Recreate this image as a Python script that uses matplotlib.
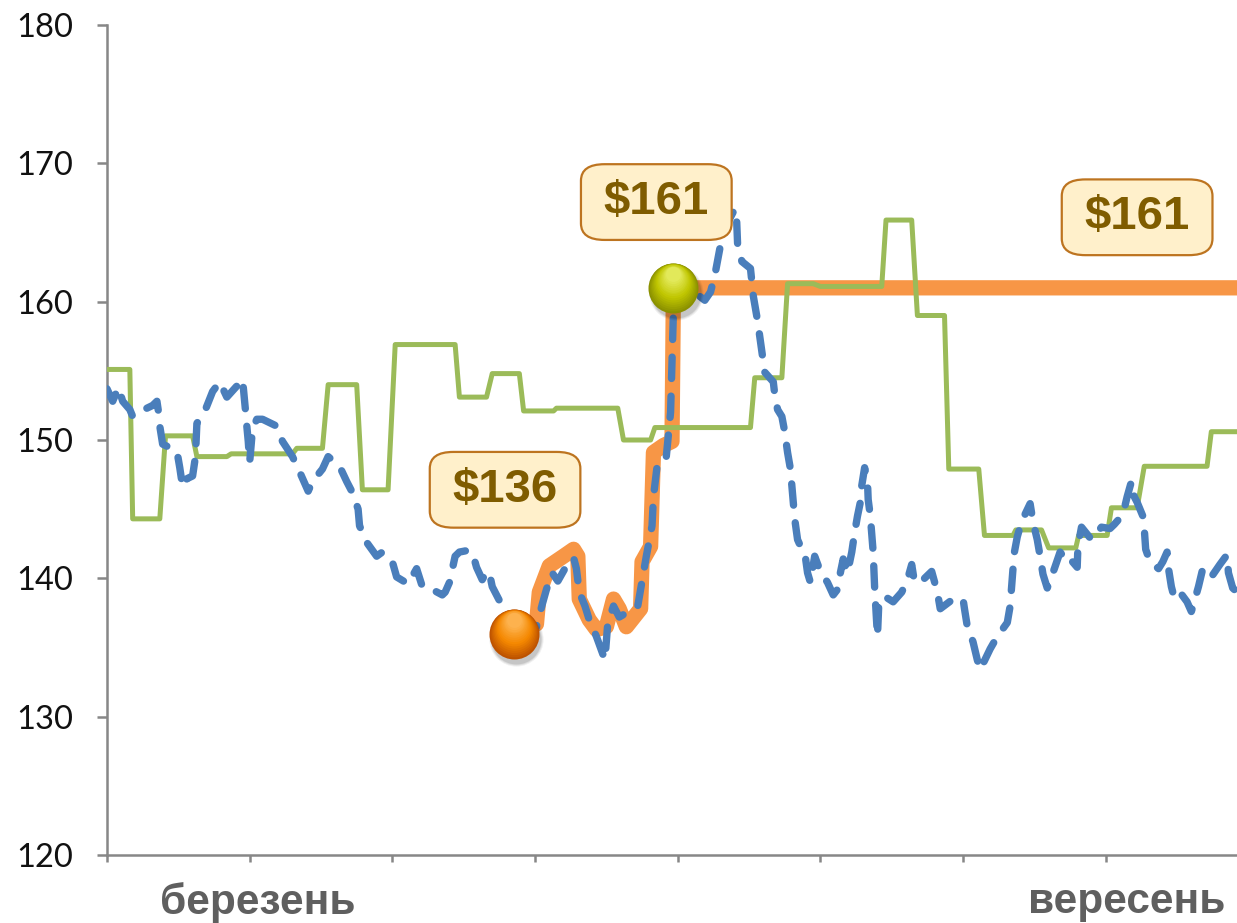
import matplotlib
matplotlib.use("Agg")
import matplotlib.pyplot as plt
import matplotlib.transforms as mtransforms
import numpy as np

# ---- data (x in months from the start of February) ----
blue_x = [0.00, 0.04, 0.08, 0.11, 0.16, 0.18, 0.22, 0.32, 0.35, 0.36, 0.37, 0.39,
          0.49, 0.51, 0.53, 0.56, 0.60, 0.62, 0.63, 0.69, 0.74, 0.79, 0.84, 0.91,
          0.95, 0.97, 0.98, 0.99, 1.00, 1.02, 1.05, 1.09, 1.19, 1.23, 1.30, 1.35,
          1.41, 1.44, 1.51, 1.55, 1.63, 1.68, 1.72, 1.76, 1.77, 1.82, 1.89, 1.93,
          2.00, 2.03, 2.11, 2.17, 2.21, 2.26, 2.35, 2.37, 2.40, 2.44, 2.47, 2.52,
          2.56, 2.59, 2.63, 2.66, 2.68, 2.70, 2.78, 2.86, 2.98, 3.01, 3.05, 3.08,
          3.12, 3.16, 3.22, 3.27, 3.29, 3.31, 3.35, 3.38, 3.43, 3.49, 3.51, 3.55,
          3.59, 3.64, 3.72, 3.74, 3.78, 3.82, 3.83, 3.86, 3.92, 3.95, 3.96, 3.97,
          3.98, 4.09, 4.19, 4.23, 4.26, 4.30, 4.33, 4.39, 4.41, 4.42, 4.45, 4.51,
          4.53, 4.56, 4.59, 4.61, 4.67, 4.68, 4.70, 4.73, 4.75, 4.77, 4.79, 4.80,
          4.81, 4.82, 4.84, 4.87, 4.89, 4.91, 4.93, 4.96, 5.00, 5.05, 5.09, 5.12,
          5.14, 5.16, 5.19, 5.22, 5.24, 5.26, 5.28, 5.29, 5.31, 5.33, 5.335, 5.35,
          5.37, 5.38, 5.40, 5.41, 5.45, 5.51, 5.57, 5.61, 5.64, 5.66, 5.72, 5.78,
          5.82, 5.84, 5.93, 6.00, 6.01, 6.03, 6.07, 6.10, 6.12, 6.19, 6.24, 6.31,
          6.33, 6.34, 6.35, 6.36, 6.38, 6.41, 6.47, 6.49, 6.52, 6.54, 6.56, 6.59,
          6.64, 6.68, 6.73, 6.75, 6.80, 6.805, 6.83, 6.90, 6.97, 7.03, 7.06, 7.12,
          7.15, 7.18, 7.20, 7.22, 7.26, 7.27, 7.28, 7.31, 7.37, 7.40, 7.43, 7.44,
          7.46, 7.48, 7.52, 7.57, 7.60, 7.62, 7.65, 7.68, 7.74, 7.80, 7.85, 7.86,
          7.89, 7.92]
blue_y = [153.7, 152.8, 153.8, 152.8, 152.2, 151.7, 152.0, 152.5, 152.8, 152.1, 151.0, 149.7,
          149.2, 148.0, 146.6, 147.2, 147.4, 148.8, 151.2, 152.2, 153.5, 154.2, 153.1, 153.9,
          154.4, 152.2, 151.0, 149.9, 148.4, 150.8, 151.5, 151.5, 151.0, 149.9, 148.8, 147.7,
          146.3, 147.0, 147.9, 148.8, 148.1, 147.0, 146.2, 145.0, 143.8, 142.6, 141.6, 141.9,
          141.2, 140.1, 139.6, 140.7, 139.4, 139.3, 138.8, 139.0, 139.7, 141.6, 141.9, 142.0,
          141.9, 140.8, 139.9, 140.5, 140.4, 139.4, 137.8, 135.2, 135.9, 136.5, 138.1, 139.2,
          140.4, 139.8, 140.9, 141.5, 140.7, 139.0, 138.0, 137.0, 135.8, 134.1, 136.8, 138.0,
          137.2, 137.5, 138.0, 139.2, 141.6, 143.8, 145.9, 148.5, 148.8, 152.0, 155.7, 159.3,
          160.9, 160.9, 160.1, 160.7, 161.9, 164.1, 165.3, 166.5, 166.7, 164.1, 162.9, 162.4,
          160.4, 158.6, 156.4, 154.9, 154.2, 153.3, 152.2, 151.7, 150.6, 149.1, 147.9, 146.7,
          145.5, 144.3, 142.8, 142.1, 141.9, 140.4, 139.7, 141.6, 140.5, 139.7, 138.8, 139.2,
          140.4, 141.4, 140.4, 141.9, 143.3, 144.5, 145.5, 146.7, 148.0, 147.0, 145.7, 144.5,
          141.9, 139.4, 135.8, 138.3, 138.7, 138.3, 139.0, 139.9, 141.0, 139.7, 139.9, 140.5,
          139.0, 137.8, 138.5, 138.5, 137.8, 136.5, 135.4, 134.1, 133.4, 134.9, 135.8, 136.8,
          138.0, 139.4, 140.7, 141.9, 143.0, 144.1, 145.4, 144.1, 142.8, 141.6, 140.3, 139.3,
          140.7, 141.9, 141.2, 141.4, 140.8, 142.3, 143.7, 142.8, 143.7, 143.6, 143.9, 144.6,
          145.9, 147.0, 145.9, 145.5, 144.5, 143.6, 142.1, 141.2, 140.7, 141.2, 141.9, 140.7,
          139.4, 138.6, 139.0, 138.3, 137.6, 138.3, 139.4, 140.7, 140.1, 141.0, 141.7, 140.4,
          139.3, 139.0]

green_x = [0.00, 0.16, 0.18, 0.37, 0.41, 0.60, 0.63, 0.84, 0.87, 1.30, 1.33, 1.51,
           1.55, 1.75, 1.79, 1.97, 2.02, 2.44, 2.47, 2.66, 2.70, 2.89, 2.92, 3.13,
           3.15, 3.58, 3.62, 3.81, 3.84, 4.51, 4.54, 4.73, 4.77, 4.95, 5.00, 5.43,
           5.46, 5.64, 5.68, 5.87, 5.90, 6.11, 6.15, 6.35, 6.37, 6.55, 6.60, 6.79,
           6.81, 7.01, 7.04, 7.22, 7.27, 7.71, 7.74, 7.92]
green_y = [155.1, 155.1, 144.3, 144.3, 150.3, 150.3, 148.8, 148.8, 149.0, 149.0, 149.4, 149.4,
           154.0, 154.0, 146.4, 146.4, 156.9, 156.9, 153.1, 153.1, 154.8, 154.8, 152.1, 152.1,
           152.3, 152.3, 150.0, 150.0, 150.9, 150.9, 154.5, 154.5, 161.3, 161.3, 161.1, 161.1,
           165.9, 165.9, 159.0, 159.0, 147.9, 147.9, 143.1, 143.1, 143.5, 143.5, 142.2, 142.2,
           143.1, 143.1, 145.1, 145.1, 148.1, 148.1, 150.6, 150.6]

# highlighted holding path: entry, climb, then a flat exit level
entry_x, entry_price = 2.85, 136
exit_x, exit_price = 3.97, 161
path_x = [2.85, 3.01, 3.03, 3.10, 3.20, 3.27, 3.30, 3.31, 3.38, 3.43, 3.50, 3.55,
          3.59, 3.64, 3.74, 3.75, 3.81, 3.83, 3.90, 3.96, 3.97, 7.92]
path_y = [136.0, 136.7, 139.0, 140.9, 141.6, 142.1, 141.6, 138.5, 137.0, 136.3, 136.5, 138.5,
          137.8, 136.5, 137.8, 141.2, 142.3, 149.1, 149.6, 149.9, 161.0, 161.0]

month_ticks = [0, 1, 2, 3, 4, 5, 6, 7]
month_labels = {1: "березень", 7: "вересень"}
y_ticks = [120, 130, 140, 150, 160, 170, 180]

# ---- figure ----
W, H = 1237, 923
fig = plt.figure(figsize=(W / 100, H / 100), dpi=100)
ax = fig.add_axes([107 / W, 1 - 855 / H, 1 - 107 / W, (855 - 25) / H])
ax.set_xlim(0, 7.92)
ax.set_ylim(120, 180)

ORANGE = "#F79646"
GREEN = "#9BBB59"
BLUE = "#4A7EBB"

ax.plot(path_x, path_y, color=ORANGE, lw=11, solid_joinstyle="round",
        solid_capstyle="butt", zorder=2)
ax.plot(green_x, green_y, color=GREEN, lw=3.6, solid_joinstyle="round", zorder=3)
ax.plot(blue_x, blue_y, color=BLUE, lw=5.3, dashes=(2.9, 2.4),
        dash_capstyle="round", dash_joinstyle="round", zorder=4)


def sphere(x, y, dark, mid, light, size=36):
    # soft drop shadow
    for k, a in ((3, 0.06), (1.5, 0.08), (0, 0.10)):
        sh = mtransforms.offset_copy(ax.transData, fig=fig, x=1.5, y=-3.5, units="points")
        ax.plot([x], [y], "o", ms=size + k, color="#000000", alpha=a, mec="none",
                transform=sh, zorder=5)
    # shaded body: stacked discs drifting up towards the highlight
    n = 16
    c_dark = np.array(matplotlib.colors.to_rgb(dark))
    c_mid = np.array(matplotlib.colors.to_rgb(mid))
    c_light = np.array(matplotlib.colors.to_rgb(light))
    for i in range(n):
        t = i / (n - 1)
        if t < 0.45:
            c = c_dark + (c_mid - c_dark) * (t / 0.45)
        else:
            c = c_mid + (c_light - c_mid) * ((t - 0.45) / 0.55)
        s = size * (1 - 0.7 * t)
        off = mtransforms.offset_copy(ax.transData, fig=fig, x=0,
                                      y=(size - s) * 0.40, units="points")
        ax.plot([x], [y], "o", ms=s, color=c, mec="none", transform=off, zorder=6)


sphere(entry_x, entry_price, "#BD5200", "#F58800", "#FDB24E")
sphere(exit_x, exit_price, "#8A9000", "#C0C600", "#E2E95A")

label_kw = dict(ha="center", va="center", fontsize=34, fontweight="bold",
                family="Liberation Sans", color="#7F5C00", zorder=8,
                bbox=dict(boxstyle="round,pad=0.48,rounding_size=0.5",
                          fc="#FFF0CB", ec="#BD7420", lw=1.6))
labels = [ax.text(2.79, 146.4, f"${entry_price}", **label_kw),
          ax.text(3.85, 167.2, f"${exit_price}", **label_kw),
          ax.text(7.22, 166.1, f"${path_y[-1]:.0f}", **label_kw)]
for t in labels:
    t.get_bbox_patch().set_mutation_aspect(0.7)

# ---- axes styling ----
for s in ("top", "right"):
    ax.spines[s].set_visible(False)
for s in ("left", "bottom"):
    ax.spines[s].set_color("#878787")
    ax.spines[s].set_linewidth(1.8)
    ax.spines[s].set_zorder(1)

ax.set_yticks(y_ticks)
ax.set_yticklabels([str(v) for v in y_ticks], family="Lato", fontsize=23.5, color="#111111")
ax.tick_params(axis="y", length=7.5, width=1.8, color="#878787", pad=17)
ax.set_xticks(month_ticks)
ax.set_xticklabels([""] * len(month_ticks))
ax.tick_params(axis="x", length=5, width=1.8, color="#878787")

xt = mtransforms.blended_transform_factory(ax.transData, ax.transAxes)
for pos, name in month_labels.items():
    ax.text(pos + 0.06 + (0.09 if pos == 7 else 0), -0.057, name, transform=xt,
            ha="center", va="center", fontsize=30.5, fontweight="bold",
            family="Liberation Sans", color="#5F5F5F")

fig.savefig("out.png", dpi=100)
